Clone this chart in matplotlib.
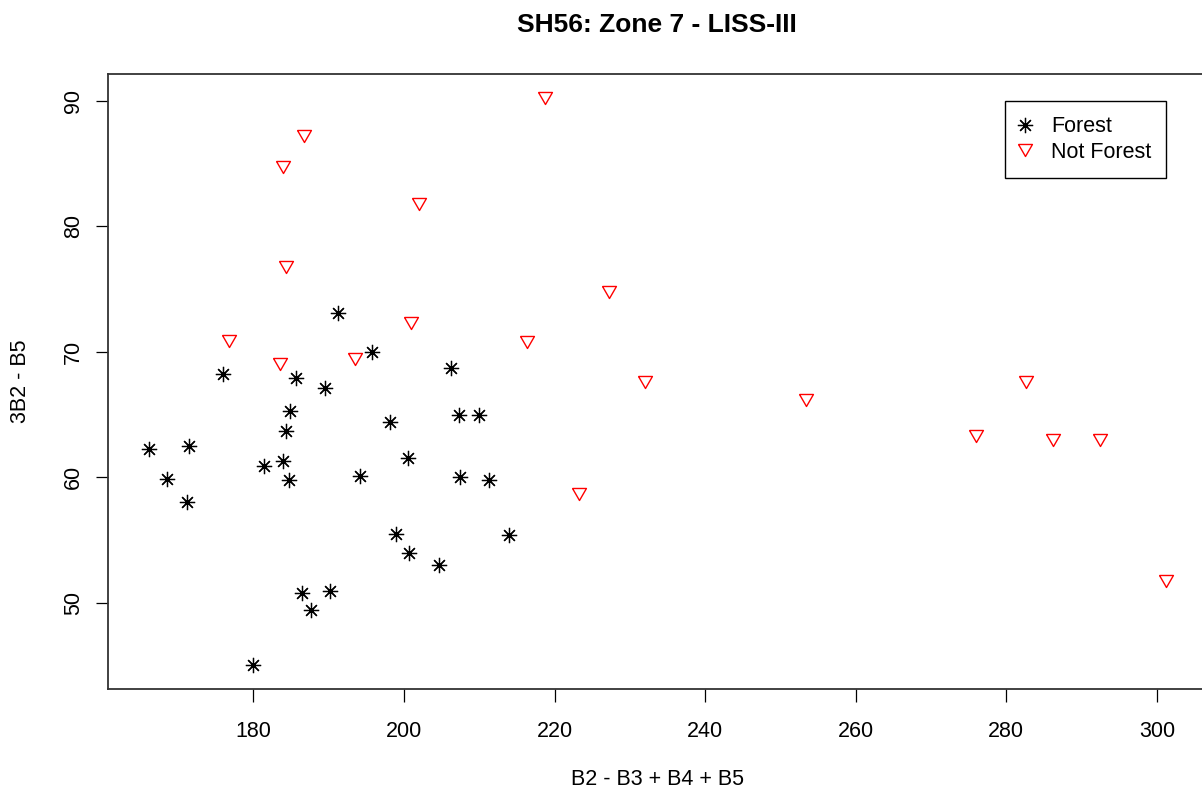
import numpy as np
import matplotlib
matplotlib.use('Agg')
import matplotlib.pyplot as plt

plt.rcParams['font.family'] = ['Liberation Sans', 'DejaVu Sans']

# Forest points (B2 - B3 + B4 + B5, 3B2 - B5)
forest_x = [191.3, 195.7, 206.2, 176.0, 185.7, 189.5, 184.9, 184.4, 198.1, 207.3,
            210.0, 166.1, 171.4, 168.6, 171.2, 181.4, 183.9, 184.7, 200.5, 194.2,
            207.5, 211.3, 198.9, 200.7, 204.7, 186.4, 190.2, 187.7, 179.9, 213.9]
forest_y = [73.1, 70.0, 68.7, 68.2, 67.9, 67.1, 65.3, 63.7, 64.4, 65.0,
            65.0, 62.25, 62.5, 59.9, 58.05, 60.9, 61.3, 59.8, 61.5, 60.1,
            60.0, 59.8, 55.5, 54.0, 53.0, 50.8, 50.9, 49.4, 45.0, 55.4]

# Not forest points
notforest_x = [186.7, 183.9, 202.0, 184.3, 176.8, 200.9, 183.5, 193.5, 218.8, 227.3,
               216.3, 232.0, 253.4, 223.2, 282.6, 276.0, 286.2, 292.5, 301.2]
notforest_y = [87.2, 84.7, 81.8, 76.8, 70.9, 72.3, 69.0, 69.4, 90.2, 74.8,
               70.8, 67.6, 66.2, 58.7, 67.6, 63.3, 63.0, 63.0, 51.7]

x_ticks = [180, 200, 220, 240, 260, 280, 300]
y_ticks = [50, 60, 70, 80, 90]

fig = plt.figure(figsize=(12.02, 7.92), dpi=100)
# plot box runs past the right edge of the image, like the reference
ax = fig.add_axes([108 / 1202, (792 - 689.3) / 792, 1098.6 / 1202, 615.3 / 792])

# closed, point-down equilateral triangle (R pch 6)
tri = [(-1, 0.866), (1, 0.866), (0, -0.866), (-1, 0.866)]
ax.plot(forest_x, forest_y, ls='none', marker=(8, 2, 0), ms=11, mew=0.9,
        color='black', label='Forest')
ax.plot(notforest_x, notforest_y, ls='none', marker=tri, ms=10, mew=1.0,
        mfc='none', mec='red', label='Not Forest')

ax.set_xlim(160.7, 306.6)
ax.set_ylim(43.1, 92.15)
ax.set_xticks(x_ticks)
ax.set_yticks(y_ticks)
ax.tick_params(axis='both', direction='out', length=9, width=0.9, labelsize=15.5,
               colors='black')
ax.tick_params(axis='x', pad=13.5)
ax.tick_params(axis='y', pad=8.5)
for lab in ax.get_yticklabels():
    lab.set_rotation(90)
    lab.set_va('center')

for s in ax.spines.values():
    s.set_color('#333333')
    s.set_linewidth(1.3)

ax.set_xlabel('B2 - B3 + B4 + B5', fontsize=15.5)
ax.xaxis.set_label_coords(0.5, -(769 - 689.3) / 615.3)
ax.set_ylabel('3B2 - B5', fontsize=15.5, va='center')
ax.yaxis.set_label_coords((20 - 108) / 1098.6, 0.5)
ax.set_title('SH56: Zone 7 - LISS-III', fontsize=19, fontweight='bold', pad=30)

leg = ax.legend(loc='upper left', bbox_to_anchor=(1005 / 1202, 1 - 101 / 792),
                bbox_transform=fig.transFigure, borderaxespad=0, fontsize=15.5,
                frameon=True, fancybox=False, edgecolor='black', framealpha=1,
                borderpad=0.7, labelspacing=0.21, handlelength=0.5,
                handletextpad=0.93)
leg.get_frame().set_linewidth(1.0)

fig.savefig('out.png', dpi=100)
